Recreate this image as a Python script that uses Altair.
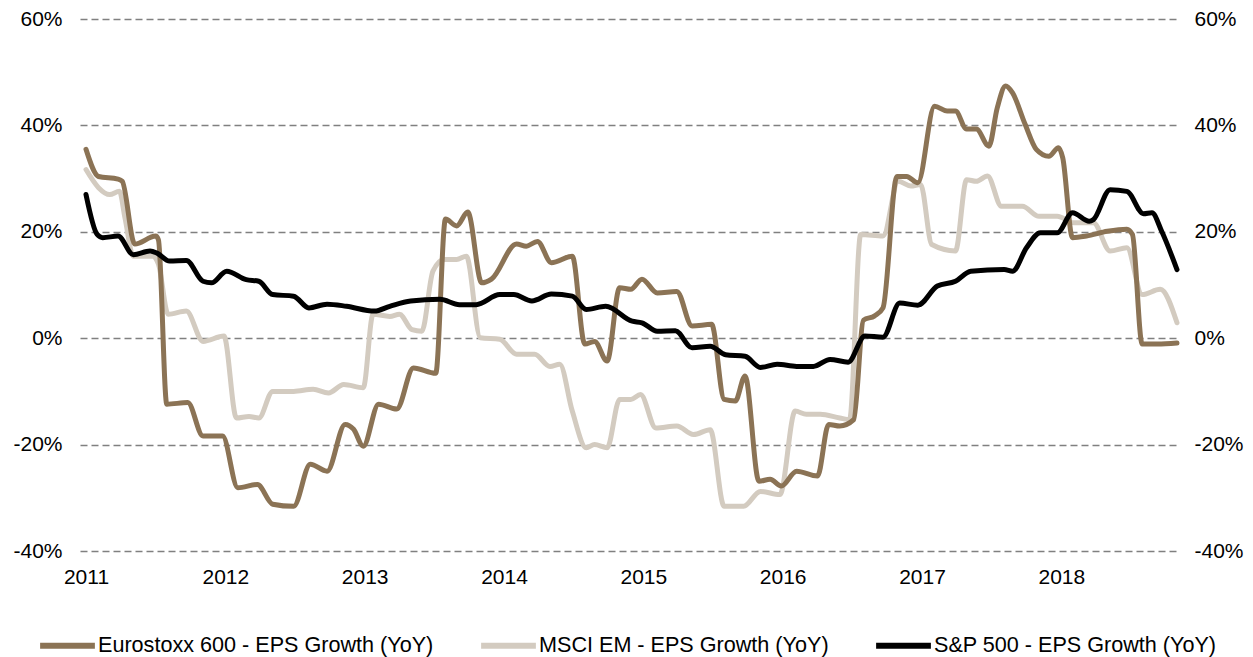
import altair as alt
import pandas as pd

# Eurostoxx 600 - EPS Growth (YoY)
euro_t = [2011.00, 2011.09, 2011.23, 2011.26, 2011.35, 2011.50, 2011.52, 2011.58, 2011.73, 2011.84,
          2011.98, 2012.09, 2012.23, 2012.34, 2012.49, 2012.61, 2012.73, 2012.86, 2012.92, 2012.99,
          2013.10, 2013.23, 2013.35, 2013.51, 2013.58, 2013.66, 2013.74, 2013.84, 2013.91, 2014.09,
          2014.16, 2014.24, 2014.34, 2014.49, 2014.58, 2014.65, 2014.74, 2014.83, 2014.91, 2014.99,
          2015.10, 2015.24, 2015.35, 2015.49, 2015.58, 2015.66, 2015.73, 2015.83, 2015.91, 2015.99,
          2016.10, 2016.25, 2016.33, 2016.41, 2016.51, 2016.58, 2016.66, 2016.72, 2016.82, 2016.89,
          2016.97, 2017.09, 2017.18, 2017.24, 2017.32, 2017.39, 2017.48, 2017.54, 2017.60, 2017.65,
          2017.74, 2017.82, 2017.91, 2017.98, 2018.01, 2018.08, 2018.18, 2018.33, 2018.47, 2018.51,
          2018.58, 2018.69, 2018.83]
euro_v = [35.5, 30.4, 29.9, 29.5, 17.7, 19.2, 18.5, -12.4, -12.1, -18.4,
          -18.4, -28.1, -27.5, -31.2, -31.6, -23.7, -25.0, -16.2, -17.1, -20.3,
          -12.4, -13.3, -5.6, -6.6, 22.4, 21.1, 23.7, 10.4, 11.1, 17.7,
          17.3, 18.2, 14.2, 15.4, -1.1, -0.6, -4.3, 9.5, 9.2, 11.1,
          8.5, 8.8, 2.3, 2.6, -11.5, -11.8, -7.1, -26.9, -26.5, -27.8,
          -25.0, -25.9, -16.2, -16.5, -15.3, 3.4, 4.2, 5.7, 30.4, 30.4,
          29.2, 43.6, 42.7, 42.7, 39.3, 39.3, 36.1, 43.3, 47.4, 46.1,
          40.2, 35.5, 34.2, 35.8, 33.9, 18.9, 19.2, 20.1, 20.5, 19.5,
          -1.1, -1.1, -0.9]

# MSCI EM - EPS Growth (YoY)
em_t = [2011.00, 2011.09, 2011.17, 2011.24, 2011.28, 2011.34, 2011.48, 2011.52, 2011.59, 2011.72,
        2011.84, 2011.99, 2012.08, 2012.17, 2012.24, 2012.34, 2012.49, 2012.63, 2012.74, 2012.85,
        2012.99, 2013.06, 2013.18, 2013.25, 2013.34, 2013.41, 2013.49, 2013.57, 2013.66, 2013.73,
        2013.83, 2013.97, 2014.09, 2014.22, 2014.33, 2014.40, 2014.49, 2014.59, 2014.65, 2014.74,
        2014.83, 2014.91, 2014.98, 2015.09, 2015.24, 2015.36, 2015.48, 2015.58, 2015.72, 2015.84,
        2015.98, 2016.09, 2016.17, 2016.27, 2016.41, 2016.48, 2016.56, 2016.72, 2016.83, 2016.92,
        2016.99, 2017.07, 2017.24, 2017.32, 2017.39, 2017.47, 2017.57, 2017.72, 2017.84, 2017.97,
        2018.09, 2018.23, 2018.35, 2018.47, 2018.58, 2018.71, 2018.83]
em_v = [31.7, 28.3, 27.0, 27.6, 22.6, 15.4, 15.4, 13.9, 4.5, 5.1,
        -0.6, 0.4, -15.0, -14.7, -15.0, -10.0, -10.0, -9.6, -10.3, -8.7,
        -9.3, 4.5, 4.1, 4.5, 1.6, 1.3, 12.6, 14.8, 14.8, 15.4,
        0.1, -0.2, -3.0, -3.0, -5.3, -4.9, -13.7, -20.6, -20.0, -20.6,
        -11.5, -11.5, -10.6, -16.9, -16.5, -18.1, -17.2, -31.6, -31.6, -28.8,
        -29.4, -13.7, -14.3, -14.3, -15.0, -15.3, 19.5, 19.2, 29.5, 28.6,
        28.9, 17.6, 16.4, 29.8, 29.5, 30.5, 24.8, 24.8, 22.9, 22.9,
        21.7, 21.7, 16.4, 17.0, 8.2, 9.2, 2.9]

# S&P 500 - EPS Growth (YoY)
sp_t = [2011.00, 2011.08, 2011.12, 2011.23, 2011.34, 2011.46, 2011.51, 2011.60, 2011.72, 2011.84,
        2011.90, 2012.01, 2012.15, 2012.24, 2012.34, 2012.49, 2012.60, 2012.73, 2012.87, 2013.07,
        2013.18, 2013.33, 2013.54, 2013.68, 2013.80, 2013.97, 2014.07, 2014.20, 2014.34, 2014.49,
        2014.59, 2014.73, 2014.92, 2014.99, 2015.10, 2015.23, 2015.35, 2015.48, 2015.59, 2015.73,
        2015.84, 2015.96, 2016.10, 2016.22, 2016.34, 2016.47, 2016.59, 2016.72, 2016.84, 2016.97,
        2017.11, 2017.24, 2017.35, 2017.59, 2017.65, 2017.75, 2017.85, 2017.97, 2018.08, 2018.20,
        2018.23, 2018.35, 2018.47, 2018.59, 2018.65, 2018.72, 2018.83]
sp_v = [27.0, 19.5, 18.9, 19.2, 15.7, 16.4, 16.0, 14.5, 14.6, 10.7,
        10.4, 12.6, 11.0, 10.7, 8.2, 7.9, 5.7, 6.4, 6.0, 5.1,
        6.0, 7.0, 7.3, 6.3, 6.3, 8.2, 8.2, 7.0, 8.3, 7.9,
        5.4, 6.0, 3.2, 2.9, 1.3, 1.4, -1.8, -1.5, -3.1, -3.4,
        -5.5, -4.9, -5.3, -5.3, -4.0, -4.5, 0.4, 0.2, 6.6, 6.2,
        9.8, 10.7, 12.6, 12.9, 12.6, 17.0, 19.8, 19.8, 23.6, 22.0,
        22.3, 27.9, 27.6, 23.4, 23.6, 20.1, 12.9]

series_names = ["Eurostoxx 600 - EPS Growth (YoY)", "MSCI EM - EPS Growth (YoY)", "S&P 500 - EPS Growth (YoY)"]
series_colors = ["#8B7355", "#D3CBC0", "#000000"]
year_ticks = [2011, 2012, 2013, 2014, 2015, 2016, 2017, 2018]
pct_ticks = [-40, -20, 0, 20, 40, 60]

frames = []
for name, ts, vs in zip(series_names, [euro_t, em_t, sp_t], [euro_v, em_v, sp_v]):
    frames.append(pd.DataFrame({"t": ts, "v": vs, "series": name}))
df = pd.concat(frames, ignore_index=True)

FONT = "Liberation Sans"
xscale = alt.Scale(domain=[2010.957, 2018.83], nice=False, zero=False)
yscale = alt.Scale(domain=[-40, 60], nice=False, zero=False)
color = alt.Color(
    "series:N",
    scale=alt.Scale(domain=series_names, range=series_colors),
    sort=series_names,
    legend=alt.Legend(
        title=None, orient="none", direction="horizontal",
        legendX=-43, legendY=596, symbolType="stroke", symbolSize=3000,
        symbolStrokeWidth=6, labelFontSize=21.6, labelFont=FONT, labelColor="#000000",
        columnPadding=35, labelOffset=0, padding=0, labelLimit=500,
    ),
)

xaxis = alt.Axis(values=year_ticks, format="d", grid=False, domain=False, ticks=False,
                 labelFontSize=21, labelFont=FONT, labelColor="#000000", labelPadding=15,
                 title=None, labelFlush=False)
yaxis_left = alt.Axis(values=pct_ticks, labelExpr="datum.value + '%'", grid=True,
                      gridDash=[7, 4], gridColor="#808080", gridWidth=1.5,
                      domain=False, ticks=False, labelFontSize=21, labelFont=FONT,
                      labelColor="#000000", labelPadding=18, title=None)
yaxis_right = alt.Axis(values=pct_ticks, labelExpr="datum.value + '%'", grid=False,
                       orient="right", domain=False, ticks=False, labelFontSize=21,
                       labelFont=FONT, labelColor="#000000", labelPadding=17, title=None)

def layer(name, yaxis):
    return alt.Chart(df).transform_filter(alt.datum.series == name).mark_line(
        strokeWidth=5, interpolate="monotone", strokeCap="round", strokeJoin="round"
    ).encode(
        x=alt.X("t:Q", scale=xscale, axis=xaxis),
        y=alt.Y("v:Q", scale=yscale, axis=yaxis),
        color=color,
        order=alt.Order("t:Q"),
    )

chart = alt.layer(
    layer(series_names[1], yaxis_left),
    layer(series_names[0], yaxis_right),
    layer(series_names[2], None),
).resolve_axis(y="independent").properties(
    width=1097, height=532,
    background="white",
    autosize=alt.AutoSizeParams(type="none"),
    padding={"left": 72, "top": 11, "right": 68, "bottom": 120},
).configure_view(strokeWidth=0, stroke="transparent")

chart.save("out.html", embed_options={"renderer": "svg", "actions": False})
